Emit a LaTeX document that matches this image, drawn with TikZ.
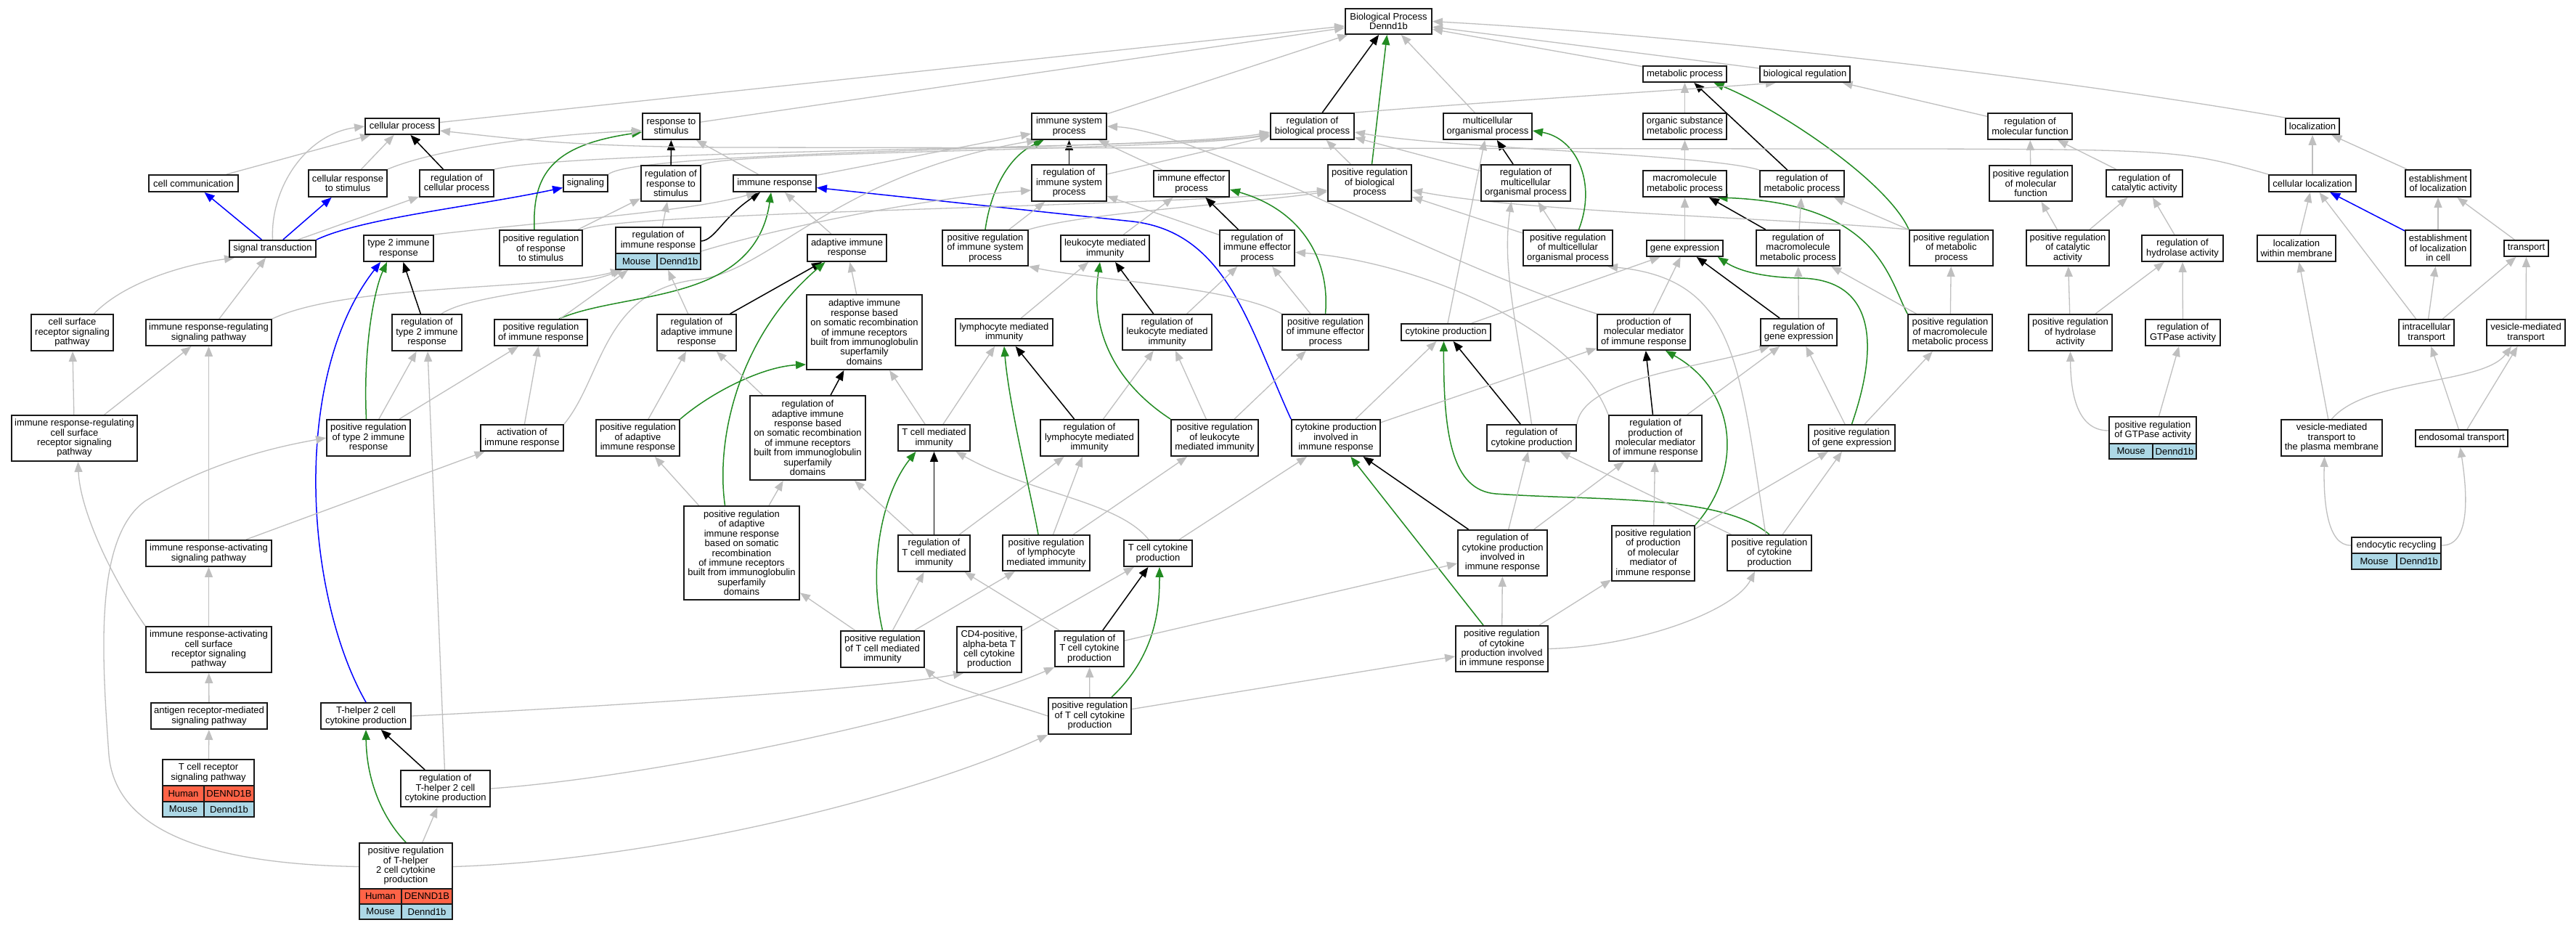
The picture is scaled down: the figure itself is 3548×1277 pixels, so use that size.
\documentclass[tikz,border=0pt]{standalone}
\usepackage{fontspec}
\setmainfont{Liberation Sans}
\usetikzlibrary{arrows.meta,backgrounds}
\definecolor{edgegray}{HTML}{BFBFBF}
\definecolor{gogreen}{HTML}{228B22}
\definecolor{goblue}{HTML}{0000FF}
\definecolor{humanred}{HTML}{FF6347}
\definecolor{mouseblue}{HTML}{ADD8E6}
\newcommand{\gofont}{\fontsize{13}{13.4}\selectfont}
\newcommand{\gobox}[6]{%
 \pgfmathsetmacro{\gowd}{#3-#2}\pgfmathsetmacro{\goht}{#5-#4}%
 \pgfmathsetmacro{\gocx}{(#2+#3)/2}\pgfmathsetmacro{\gocy}{(#4+#5)/2}%
 \node[gostyle, minimum width=\gowd pt, minimum height=\goht pt] (#1) at (\gocx,\gocy) {#6};}
\newcommand{\gocell}[7]{%
 \pgfmathsetmacro{\gowd}{#3-#2}\pgfmathsetmacro{\goht}{#5-#4}%
 \pgfmathsetmacro{\gocx}{(#2+#3)/2}\pgfmathsetmacro{\gocy}{(#4+#5)/2}%
 \node[cellst, fill=#6, minimum width=\gowd pt, minimum height=\goht pt] (#1) at (\gocx,\gocy) {#7};}
\tikzset{
 gostyle/.style={draw=black!90, line width=1.9pt, fill=white, inner sep=0pt, align=center, font=\gofont},
 txtst/.style={inner sep=0pt, align=center, font=\gofont},
 cellst/.style={draw=black!90, line width=1.9pt, inner sep=0pt, align=center, font=\gofont},
 eg/.style={draw=edgegray, line width=1.3pt, -{Triangle[length=14pt,width=11pt]}},
 ek/.style={draw=black, line width=1.5pt, -{Triangle[length=14pt,width=11pt]}},
 egn/.style={draw=gogreen, line width=1.5pt, -{Triangle[length=14pt,width=11pt]}},
 ebl/.style={draw=goblue, line width=1.5pt, -{Triangle[length=14pt,width=11pt]}},
}
\begin{document}
\begin{tikzpicture}[x=1pt,y=-1pt]
\useasboundingbox (0,0) rectangle (3548,1277);
% ---------- nodes ----------
\gobox{bp}{1853}{1972}{12}{47}{Biological Process\\Dennd1b}
\gobox{cp}{503}{605}{163}{185}{cellular process}
\gobox{rs}{885}{964}{156}{192}{response to\\stimulus}
\gobox{isp}{1421}{1524}{156}{192}{immune system\\process}
\gobox{rbp}{1750}{1865}{156}{192}{regulation of\\biological process}
\gobox{mop}{1988}{2110}{156}{192}{multicellular\\organismal process}
\gobox{mp}{2263}{2378}{91}{113}{metabolic process}
\gobox{br}{2424}{2548}{91}{113}{biological regulation}
\gobox{osmp}{2263}{2378}{156}{192}{organic substance\\metabolic process}
\gobox{rmf}{2738}{2854}{156}{192}{regulation of\\molecular function}
\gobox{loc}{3148}{3222}{163}{185}{localization}
\gobox{cc}{205}{328}{241}{264}{cell communication}
\gobox{crs}{425}{533}{234}{271}{cellular response\\to stimulus}
\gobox{rcp}{578}{680}{234}{271}{regulation of\\cellular process}
\gobox{sig}{776}{837}{241}{264}{signaling}
\gobox{rrs}{883}{965}{228}{277}{regulation of\\response to\\stimulus}
\gobox{ir}{1010}{1124}{241}{264}{immune response}
\gobox{risp}{1421}{1524}{227}{277}{regulation of\\immune system\\process}
\gobox{iep}{1589}{1693}{235}{271}{immune effector\\process}
\gobox{prbp}{1829}{1944}{227}{277}{positive regulation\\of biological\\process}
\gobox{rmop}{2040}{2163}{227}{277}{regulation of\\multicellular\\organismal process}
\gobox{mmp}{2263}{2378}{235}{271}{macromolecule\\metabolic process}
\gobox{rmp}{2424}{2540}{235}{271}{regulation of\\metabolic process}
\gobox{prmf}{2740}{2854}{228}{277}{positive regulation\\of molecular\\function}
\gobox{rca}{2901}{3006}{234}{271}{regulation of\\catalytic activity}
\gobox{cl}{3125}{3245}{241}{264}{cellular localization}
\gobox{el}{3313}{3403}{234}{271}{establishment\\of localization}
\gobox{st}{316}{435}{331}{354}{signal transduction}
\gobox{ttir}{501}{597}{324}{360}{type 2 immune\\response}
\gobox{prrs}{688}{802}{317}{366}{positive regulation\\of response\\to stimulus}
\gobox{rir}{848}{965}{313}{371}{}
\node[txtst] (rirtx) at (906.5,331) {regulation of\\immune response};
\gocell{rirm}{848}{905}{349}{371}{mouseblue}{Mouse}
\gocell{rirg}{905}{965}{349}{371}{mouseblue}{Dennd1b}
\gobox{air}{1112}{1221}{323}{360}{adaptive immune\\response}
\gobox{prisp}{1298}{1416}{317}{366}{positive regulation\\of immune system\\process}
\gobox{lmi}{1461}{1583}{324}{360}{leukocyte mediated\\immunity}
\gobox{riep}{1680}{1783}{317}{366}{regulation of\\immune effector\\process}
\gobox{prmop}{2098}{2221}{317}{366}{positive regulation\\of multicellular\\organismal process}
\gobox{ge}{2268}{2373}{331}{353}{gene expression}
\gobox{rmmp}{2419}{2534}{317}{366}{regulation of\\macromolecule\\metabolic process}
\gobox{prmp}{2630}{2745}{317}{366}{positive regulation\\of metabolic\\process}
\gobox{prca}{2791}{2905}{317}{366}{positive regulation\\of catalytic\\activity}
\gobox{rha}{2950}{3062}{324}{360}{regulation of\\hydrolase activity}
\gobox{lwm}{3109}{3217}{324}{360}{localization\\within membrane}
\gobox{elc}{3313}{3403}{317}{366}{establishment\\of localization\\in cell}
\gobox{tr}{3449}{3510}{331}{353}{transport}
\gobox{csrsp}{43}{156}{433}{483}{cell surface\\receptor signaling\\pathway}
\gobox{irrsp}{201}{374}{440}{476}{immune response-regulating\\signaling pathway}
\gobox{rtt}{540}{636}{433}{483}{regulation of\\type 2 immune\\response}
\gobox{prir}{681}{809}{440}{476}{positive regulation\\of immune response}
\gobox{rair}{905}{1014}{433}{483}{regulation of\\adaptive immune\\response}
\gobox{airs}{1111}{1270}{406}{509}{adaptive immune\\response based\\on somatic recombination\\of immune receptors\\built from immunoglobulin\\superfamily\\domains}
\gobox{lymi}{1316}{1450}{439}{476}{lymphocyte mediated\\immunity}
\gobox{rlmi}{1546}{1669}{433}{482}{regulation of\\leukocyte mediated\\immunity}
\gobox{prie}{1766}{1885}{433}{482}{positive regulation\\of immune effector\\process}
\gobox{ckp}{1930}{2053}{446}{469}{cytokine production}
\gobox{pmm}{2200}{2328}{433}{482}{production of\\molecular mediator\\of immune response}
\gobox{rge}{2425}{2530}{439}{476}{regulation of\\gene expression}
\gobox{prmmp}{2628}{2744}{433}{483}{positive regulation\\of macromolecule\\metabolic process}
\gobox{prha}{2794}{2909}{433}{483}{positive regulation\\of hydrolase\\activity}
\gobox{rga}{2955}{3058}{440}{476}{regulation of\\GTPase activity}
\gobox{it}{3304}{3380}{440}{476}{intracellular\\transport}
\gobox{vmt}{3425}{3533}{440}{476}{vesicle-mediated\\transport}
\gobox{irrcs}{16}{189}{572}{635}{immune response-regulating\\cell surface\\receptor signaling\\pathway}
\gobox{prtt}{450}{565}{578}{628}{positive regulation\\of type 2 immune\\response}
\gobox{acir}{662}{776}{585}{621}{activation of\\immune response}
\gobox{prair}{821}{936}{578}{628}{positive regulation\\of adaptive\\immune response}
\gobox{rairs}{1033}{1192}{545}{661}{regulation of\\adaptive immune\\response based\\on somatic recombination\\of immune receptors\\built from immunoglobulin\\superfamily\\domains}
\gobox{tcmi}{1237}{1336}{585}{621}{T cell mediated\\immunity}
\gobox{rlymi}{1433}{1568}{578}{628}{regulation of\\lymphocyte mediated\\immunity}
\gobox{prlmi}{1613}{1733}{578}{628}{positive regulation\\of leukocyte\\mediated immunity}
\gobox{cpir}{1779}{1901}{578}{628}{cytokine production\\involved in\\immune response}
\gobox{rckp}{2048}{2171}{585}{621}{regulation of\\cytokine production}
\gobox{rpmm}{2216}{2344}{572}{635}{regulation of\\production of\\molecular mediator\\of immune response}
\gobox{prge}{2491}{2610}{585}{621}{positive regulation\\of gene expression}
\gobox{prga}{2905}{3025}{574}{632}{}
\node[txtst] (prgatx) at (2965,592.5) {positive regulation\\of GTPase activity};
\gocell{prgam}{2905}{2965}{611}{632}{mouseblue}{Mouse}
\gocell{prgag}{2965}{3025}{611}{632}{mouseblue}{Dennd1b}
\gobox{vmtpm}{3142}{3281}{578}{628}{vesicle-mediated\\transport to\\the plasma membrane}
\gobox{et}{3327}{3454}{592}{615}{endosomal transport}
\gobox{prairs}{942}{1101}{697}{826}{positive regulation\\of adaptive\\immune response\\based on somatic\\recombination\\of immune receptors\\built from immunoglobulin\\superfamily\\domains}
\gobox{rtcmi}{1237}{1336}{737}{787}{regulation of\\T cell mediated\\immunity}
\gobox{prlymi}{1381}{1501}{737}{786}{positive regulation\\of lymphocyte\\mediated immunity}
\gobox{tccp}{1548}{1642}{744}{780}{T cell cytokine\\production}
\gobox{rcpir}{2008}{2131}{730}{793}{regulation of\\cytokine production\\involved in\\immune response}
\gobox{prpmm}{2220}{2334}{724}{800}{positive regulation\\of production\\of molecular\\mediator of\\immune response}
\gobox{prckp}{2379}{2495}{737}{786}{positive regulation\\of cytokine\\production}
\gobox{er}{3239}{3362}{740}{784}{}
\node[txtst] (ertx) at (3300.5,751) {endocytic recycling};
\gocell{erm}{3239}{3301}{762}{784}{mouseblue}{Mouse}
\gocell{erg}{3301}{3362}{762}{784}{mouseblue}{Dennd1b}
\gobox{irasp}{201}{374}{744}{780}{immune response-activating\\signaling pathway}
\gobox{prtcmi}{1158}{1273}{869}{919}{positive regulation\\of T cell mediated\\immunity}
\gobox{cdf}{1318}{1407}{863}{926}{CD4-positive,\\alpha-beta T\\cell cytokine\\production}
\gobox{rtccp}{1453}{1548}{869}{918}{regulation of\\T cell cytokine\\production}
\gobox{prcpir}{2005}{2132}{862}{925}{positive regulation\\of cytokine\\production involved\\in immune response}
\gobox{iracs}{201}{374}{863}{926}{immune response-activating\\cell surface\\receptor signaling\\pathway}
\gobox{armsp}{208}{368}{968}{1004}{antigen receptor-mediated\\signaling pathway}
\gobox{thtwo}{442}{566}{968}{1004}{T-helper 2 cell\\cytokine production}
\gobox{prtccp}{1444}{1558}{961}{1011}{positive regulation\\of T cell cytokine\\production}
\gobox{tcr}{224}{350}{1046}{1125}{}
\node[txtst] (tcrtx) at (287,1064) {T cell receptor\\signaling pathway};
\gocell{tcrh}{224}{281}{1082}{1104}{humanred}{Human}
\gocell{tcrhg}{281}{350}{1082}{1104}{humanred}{DENND1B}
\gocell{tcrm}{224}{281}{1104}{1125}{mouseblue}{Mouse}
\gocell{tcrmg}{281}{350}{1104}{1125}{mouseblue}{Dennd1b}
\gobox{rthtwo}{552}{675}{1061}{1111}{regulation of\\T-helper 2 cell\\cytokine production}
\gobox{prthtwo}{495}{623}{1161}{1266}{}
\node[txtst] (prthtwotx) at (559,1192.5) {positive regulation\\of T-helper\\2 cell cytokine\\production};
\gocell{prthh}{495}{553}{1224}{1245}{humanred}{Human}
\gocell{prthhg}{553}{623}{1224}{1245}{humanred}{DENND1B}
\gocell{prthm}{495}{553}{1245}{1266}{mouseblue}{Mouse}
\gocell{prthmg}{553}{623}{1245}{1266}{mouseblue}{Dennd1b}
% ---------- edges ----------
\begin{pgfonlayer}{background}
\fill[white] (0,0) rectangle (3548,1277);
% to BP
\draw[eg] (cp) -- (bp);
\draw[eg] (rs) -- (bp);
\draw[eg] (isp) -- (bp);
\draw[ek] (rbp) -- (bp);
\draw[egn] (prbp) -- (bp);
\draw[eg] (mop) -- (bp);
\draw[eg] (mp) -- (bp);
\draw[eg] (br) -- (bp);
\draw[eg] (loc.north west) .. controls (2850,110) and (2350,50) .. (bp.east);
% metabolic
\draw[eg] (osmp) -- (mp);
\draw[ek] (rmp) -- (mp);
\draw[egn] (prmp.north west) .. controls (2600,250) and (2450,150) .. ([xshift=40pt]mp.south);
\draw[eg] (rbp.north east) .. controls (2050,140) and (2300,125) .. ([xshift=-40pt]br.south);
\draw[eg] (rmf) -- (br);
\draw[eg] (mmp) -- (osmp);
\draw[eg] (ge) -- (mmp);
\draw[ek] (rmmp) -- (mmp);
\draw[egn] (prmmp.north west) .. controls (2600,380) and (2585,280) .. ([xshift=45pt]mmp.south);
\draw[eg] (rmmp) -- (rmp);
\draw[eg] (rmp.north west) .. controls (2350,212) and (2000,205) .. ([yshift=-8pt]rbp.east);
\draw[eg] (prmp) -- (rmp);
\draw[eg] (prmp.north west) .. controls (2450,300) and (2100,292) .. ([yshift=-10pt]prbp.east);
\draw[eg] (rge) -- (rmmp);
\draw[ek] (rge) -- (ge);
\draw[egn] (prge.north) .. controls (2590,470) and (2580,385) .. (2480,383) .. controls (2420,382) and (2390,370) .. ([xshift=-8pt]ge.south east);
\draw[eg] (prge) -- (rge);
\draw[eg] (prge) -- (prmmp);
\draw[eg] (ckp) -- (ge);
\draw[eg] (pmm) -- (ge);
\draw[eg] (prmmp) -- (rmmp);
\draw[eg] (prmmp) -- (prmp);
% cytokine production
\draw[ek] (rckp) -- (ckp);
\draw[egn] (prckp.north) .. controls (2370,680) and (2200,690) .. (2060,680) .. controls (2000,675) and (1988,600) .. ([xshift=-3pt]ckp.south);
\draw[eg] (cpir) -- (ckp);
\draw[eg] (ckp) -- (mop);
\draw[ek] (rpmm) -- (pmm);
\draw[egn] (prpmm.north east) .. controls (2400,650) and (2395,540) .. ([xshift=30pt]pmm.south);
\draw[eg] (pmm.north west) .. controls (2000,370) and (1650,180) .. (isp.east);
\draw[ek] (rcpir) -- (cpir);
\draw[egn] (prcpir) -- (cpir);
\draw[eg] (cpir) -- (pmm);
\draw[ebl] (cpir.north west) .. controls (1720,450) and (1690,320) .. (1560,305) -- ([yshift=-6pt]ir.east);
\draw[ek] (rtccp) -- (tccp);
\draw[egn] ([xshift=30pt]prtccp.north) .. controls (1595,900) and (1597,830) .. ([xshift=2pt]tccp.south);
\draw[eg] (cdf) -- (tccp);
\draw[eg] (tccp) -- (cpir);
\draw[eg] ([xshift=-13pt]tccp.north) .. controls (1540,690) and (1420,680) .. ([xshift=30pt]tcmi.south);
\draw[eg] (rtccp) -- (rcpir);
\draw[eg] (rtccp) -- (rtcmi);
\draw[eg] (prtccp) -- (rtccp);
\draw[eg] (prtccp) -- (prcpir);
\draw[eg] (prtccp.west) .. controls (1380,965) and (1300,945) .. (prtcmi.south east);
\draw[eg] (rcpir) -- (rckp);
\draw[eg] (rcpir) -- (rpmm);
\draw[eg] (prcpir) -- (rcpir);
\draw[eg] (prcpir) -- (prpmm);
\draw[eg] (prcpir.east) .. controls (2260,890) and (2390,840) .. ([xshift=-20pt]prckp.south);
\draw[eg] (rckp.north) .. controls (2090,450) and (2068,370) .. ([xshift=-20pt]rmop.south);
\draw[eg] (rckp.north east) .. controls (2180,520) and (2350,505) .. ([xshift=-40pt]rge.south);
\draw[eg] (rpmm.north west) .. controls (2170,450) and (1950,360) .. ([yshift=-6pt]riep.east);
\draw[eg] (rpmm) -- (rge);
\draw[eg] (prpmm) -- (rpmm);
\draw[eg] (prpmm) -- (prge);
\draw[eg] (prckp) -- (prge);
\draw[eg] (prckp) -- (rckp);
\draw[eg] ([xshift=-5pt]prckp.north) .. controls (2395,500) and (2392,385) .. ([xshift=-8pt]prmop.south east);
% multicellular
\draw[ek] (rmop) -- (mop);
\draw[egn] ([xshift=15pt]prmop.north) .. controls (2200,250) and (2170,190) .. ([yshift=-6pt]mop.east);
\draw[eg] (prmop) -- (rmop);
\draw[eg] (prmop) -- (prbp);
\draw[eg] (rmop) -- (rbp);
% immune system process
\draw[ek] (risp) -- (isp);
\draw[egn] (prisp.north) .. controls (1365,260) and (1390,215) .. ([xshift=-35pt]isp.south);
\draw[eg] (prisp) -- (risp);
\draw[eg] (prisp.north east) .. controls (1500,292) and (1700,282) .. ([yshift=-12pt]prbp.west);
\draw[eg] (iep) -- (isp);
\draw[eg] (risp) -- (rbp);
\draw[eg] (acir.north east) .. controls (830,520) and (830,400) .. (960,385) .. controls (1060,375) and (1150,240) .. ([xshift=8pt]isp.south west);
\draw[eg] (prbp) -- (rbp);
\draw[eg] (rcp.north east) .. controls (800,205) and (1650,205) .. ([yshift=-10pt]rbp.west);
\draw[eg] (rrs.north east) .. controls (1000,208) and (1600,208) .. ([yshift=-12pt]rbp.west);
\draw[eg] (sig.north east) .. controls (880,205) and (1620,206) .. ([yshift=-8pt]rbp.west);
% immune response
\draw[eg] (ir) -- (rs);
\draw[eg] (ir) -- (isp);
\draw[ek] ([yshift=10pt]rir.east) .. controls (985,330) and (995,300) .. ([xshift=-20pt]ir.south);
\draw[egn] ([xshift=25pt]prir.north) .. controls (860,400) and (1040,420) .. ([xshift=-5pt]ir.south);
\draw[eg] (air) -- (ir);
\draw[eg] (ttir.north east) .. controls (750,305) and (950,292) .. ([xshift=-25pt]ir.south);
\draw[eg] (irrsp.north east) .. controls (480,390) and (750,400) .. ([xshift=8pt]rir.south west);
\draw[eg] ([xshift=20pt]rtt.north) .. controls (650,405) and (780,400) .. ([xshift=10pt]rir.south west);
\draw[eg] (prir) -- (rir);
\draw[eg] (rair) -- (rir);
\draw[eg] (rir) -- (rrs);
\draw[eg] ([yshift=-4pt]rir.east) .. controls (1050,320) and (1250,275) .. ([yshift=-10pt]risp.west);
\draw[ek] (rrs) -- (rs);
\draw[egn] ([xshift=-9pt]prrs.north) .. controls (733,240) and (760,200) .. ([yshift=-8pt]rs.west);
\draw[eg] (prrs) -- (rrs);
\draw[eg] (prrs.north east) .. controls (850,292) and (1600,285) .. ([yshift=-10pt]prbp.west);
% cellular
\draw[eg] (cc) -- (cp);
\draw[eg] (crs) -- (cp);
\draw[eg] (crs.north east) .. controls (600,205) and (750,185) .. ([yshift=-6pt]rs.west);
\draw[ek] (rcp) -- (cp);
\draw[ebl] (st) -- (cc);
\draw[ebl] (st) -- (crs);
\draw[ebl] (st.north east) .. controls (500,300) and (650,285) .. ([yshift=-6pt]sig.west);
\draw[eg] (st.north) .. controls (372,260) and (420,185) .. (cp.west);
\draw[eg] (st) -- (rcp);
\draw[eg] (cl.north west) .. controls (3000,205) .. (2500,205) -- (1000,203) .. controls (780,202) and (700,190) .. ([yshift=-6pt]cp.east);
% type 2
\draw[ek] (rtt) -- (ttir);
\draw[egn] ([xshift=-3pt]prtt.north) .. controls (500,480) and (515,400) .. ([xshift=-16pt]ttir.south);
\draw[ebl] (thtwo.north) .. controls (420,820) and (400,520) .. ([xshift=-25pt]ttir.south);
\draw[eg] (prtt) -- (rtt);
\draw[eg] (prtt) -- (prir);
\draw[eg] (rthtwo) -- (rtt);
% adaptive
\draw[ek] (rair) -- (air);
\draw[eg] (airs) -- (air);
\draw[egn] ([xshift=-23pt]prairs.north) .. controls (985,600) and (1020,460) .. ([xshift=-30pt]air.south);
\draw[egn] (prair.north east) .. controls (980,540) and (1050,505) .. ([yshift=8pt]airs.south west);
\draw[eg] (prairs) -- (prair);
\draw[eg] (prairs) -- (rairs);
\draw[ek] (rairs) -- (airs);
\draw[eg] (rairs) -- (rair);
\draw[eg] (prair) -- (rair);
\draw[eg] (acir) -- (prir);
\draw[eg] (irasp) -- (acir);
% T cell mediated
\draw[eg] (tcmi) -- (airs);
\draw[eg] (tcmi) -- (lymi);
\draw[ek] (rtcmi) -- (tcmi);
\draw[egn] (prtcmi.north) .. controls (1195,780) and (1215,680) .. ([xshift=-25pt]tcmi.south);
\draw[eg] (prtcmi) -- (rtcmi);
\draw[eg] (prtcmi) -- (prairs);
\draw[eg] (prtcmi) -- (prlymi);
\draw[eg] (rtcmi) -- (rairs);
\draw[eg] (rtcmi) -- (rlymi);
% lymphocyte / leukocyte
\draw[ek] (rlymi) -- (lymi);
\draw[egn] ([xshift=-11pt]prlymi.north) .. controls (1420,680) and (1390,560) .. (lymi.south);
\draw[eg] (prlymi) -- (rlymi);
\draw[eg] (prlymi) -- (prlmi);
\draw[eg] (rlymi) -- (rlmi);
\draw[eg] (lymi) -- (lmi);
\draw[ek] (rlmi) -- (lmi);
\draw[egn] (prlmi.north west) .. controls (1540,530) and (1500,460) .. ([xshift=-7pt]lmi.south);
\draw[eg] (prlmi) -- (rlmi);
\draw[eg] (prlmi) -- (prie);
\draw[eg] (rlmi) -- (riep);
\draw[eg] (lmi) -- (iep);
\draw[ek] (riep) -- (iep);
\draw[egn] (prie.north) .. controls (1832,360) and (1795,290) .. ([yshift=-8pt]iep.east);
\draw[eg] (prie) -- (riep);
\draw[eg] (prie.north west) .. controls (1700,395) and (1500,385) .. (prisp.south east);
\draw[eg] (riep) -- (risp);
% localization
\draw[eg] (cl) -- (loc);
\draw[eg] (el) -- (loc);
\draw[eg] (lwm) -- (cl);
\draw[ebl] (elc) -- (cl);
\draw[eg] (elc) -- (el);
\draw[eg] (tr) -- (el);
\draw[eg] (it) -- (elc);
\draw[eg] (it) -- (tr);
\draw[eg] (it) -- (cl);
\draw[eg] (vmt) -- (tr);
\draw[eg] (vmtpm) -- (lwm);
\draw[eg] (vmtpm.north) .. controls (3260,520) and (3420,530) .. ([xshift=-20pt]vmt.south);
\draw[eg] (et) -- (it);
\draw[eg] (et) -- (vmt);
\draw[eg] ([yshift=11pt]er.west) .. controls (3205,752) and (3200,690) .. ([xshift=-10pt]vmtpm.south);
\draw[eg] ([yshift=11pt]er.east) .. controls (3400,752) and (3400,690) .. ([xshift=-2pt]et.south);
% molecular function
\draw[eg] (prmf) -- (rmf);
\draw[eg] (rca) -- (rmf);
\draw[eg] (prca) -- (prmf);
\draw[eg] (prca) -- (rca);
\draw[eg] (rha) -- (rca);
\draw[eg] (prha) -- (prca);
\draw[eg] (prha) -- (rha);
\draw[eg] (rga) -- (rha);
\draw[eg] (prga) -- (rga);
\draw[eg] ([yshift=10pt]prga.west) .. controls (2860,593) and (2852,540) .. (prha.south);
% signaling pathways
\draw[eg] (tcr) -- (armsp);
\draw[eg] (armsp) -- (iracs);
\draw[eg] (iracs) -- (irasp);
\draw[eg] (irasp) -- (irrsp);
\draw[eg] (iracs.north west) .. controls (150,790) and (110,700) .. ([xshift=5pt]irrcs.south);
\draw[eg] (irrcs) -- (csrsp);
\draw[eg] (irrcs) -- (irrsp);
\draw[eg] ([xshift=30pt]csrsp.north) .. controls (170,390) and (250,365) .. ([xshift=8pt]st.south west);
\draw[eg] (irrsp) -- (st);
% T-helper 2
\draw[ek] (rthtwo) -- (thtwo);
\draw[egn] (prthtwo.north) .. controls (530,1130) and (505,1080) .. (thtwo.south);
\draw[eg] (prthtwo) -- (rthtwo);
\draw[eg] ([yshift=20pt]prthtwo.west) .. controls (300,1190) and (160,1150) .. (150,1040) .. controls (140,900) and (130,740) .. (200,690) .. controls (300,630) and (400,612) .. (prtt.west);
\draw[eg] ([yshift=20pt]prthtwo.east) .. controls (900,1185) and (1250,1100) .. (prtccp.south west);
\draw[eg] (rthtwo.east) .. controls (900,1070) and (1300,985) .. (rtccp.south west);
\draw[eg] (thtwo.east) .. controls (800,975) and (1200,950) .. ([xshift=10pt]cdf.south west);
\end{pgfonlayer}
\end{tikzpicture}
\end{document}
